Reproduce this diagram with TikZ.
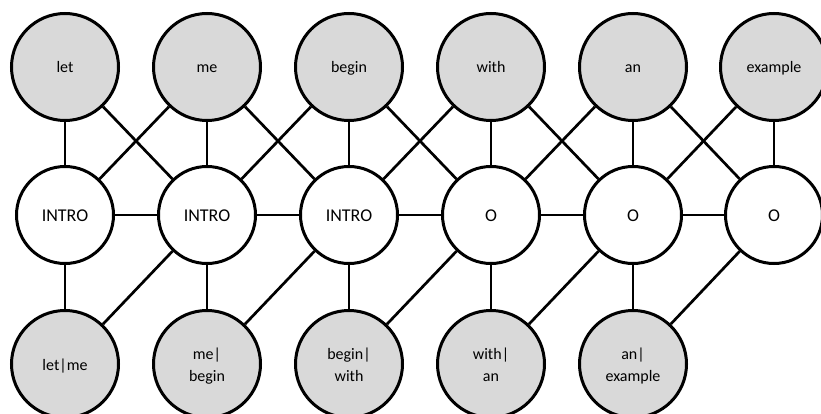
\documentclass[tikz,border=0pt]{standalone}
\usepackage{fontspec}
\setmainfont{Carlito}
\definecolor{tokgray}{HTML}{D9D9D9}
\begin{document}
\begin{tikzpicture}[x=1pt,y=-1pt,
  word/.style={circle, draw, line width=3pt, fill=tokgray, minimum size=107pt,
    inner sep=0pt, align=center, text height=12pt, text depth=0pt,
    font=\fontsize{16}{22}\selectfont},
  pair/.style={word, text height=34pt},
  tag/.style={circle, draw, line width=3pt, fill=white, minimum size=97pt,
    inner sep=0pt, text height=12pt, text depth=0pt,
    font=\fontsize{18}{22}\selectfont},
  link/.style={line width=2.7pt}]
\clip (0,0) rectangle (821,414);

% input tokens
\node[word] (t1) at (65,67)  {let};
\node[word] (t2) at (207,67) {me};
\node[word] (t3) at (349,67) {begin};
\node[word] (t4) at (491,67) {with};
\node[word] (t5) at (633,67) {an};
\node[word] (t6) at (774,67) {example};

% label sequence
\node[tag] (m1) at (65,215)  {INTRO};
\node[tag] (m2) at (207,215) {INTRO};
\node[tag] (m3) at (349,215) {INTRO};
\node[tag] (m4) at (491,215) {O};
\node[tag] (m5) at (633,215) {O};
\node[tag] (m6) at (774,215) {O};

% bigram features
\node[word] (b1) at (65,364)  {let|me};
\node[pair] (b2) at (207,364) {me|\\begin};
\node[pair] (b3) at (349,364) {begin|\\with};
\node[pair] (b4) at (491,364) {with|\\an};
\node[pair] (b5) at (633,364) {an|\\example};

% links: token-label, label-label, label-bigram
\foreach \i in {1,...,6} \draw[link] (t\i) -- (m\i);
\foreach \i/\j in {1/2,2/3,3/4,4/5,5/6} {
  \draw[link] (t\i) -- (m\j);
  \draw[link] (t\j) -- (m\i);
  \draw[link] (m\i) -- (m\j);
  \draw[link] (m\i) -- (b\i);
  \draw[link] (m\j) -- (b\i);
}
\end{tikzpicture}
\end{document}
